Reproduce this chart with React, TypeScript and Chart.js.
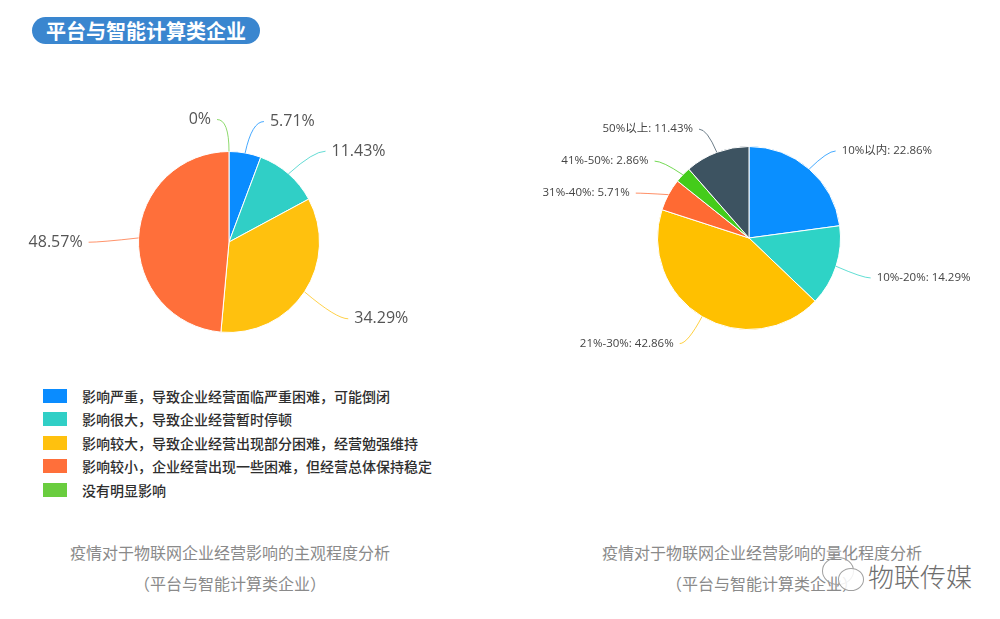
import React, { useEffect, useRef } from "react";
import { Chart, registerables } from "chart.js";

Chart.register(...registerables);

// ---------- data ----------
const titleText = "平台与智能计算类企业";

const impactLabels = [
  "影响严重，导致企业经营面临严重困难，可能倒闭",
  "影响很大，导致企业经营暂时停顿",
  "影响较大，导致企业经营出现部分困难，经营勉强维持",
  "影响较小，企业经营出现一些困难，但经营总体保持稳定",
  "没有明显影响",
];
const impactValues = [5.71, 11.43, 34.29, 48.57, 0];
const impactColors = ["#0A8CFF", "#30CFC6", "#FFC10E", "#FF6F3A", "#6ACD3F"];

const quantLabels = ["10%以内", "10%-20%", "21%-30%", "31%-40%", "41%-50%", "50%以上"];
const quantValues = [22.86, 14.29, 42.86, 5.71, 2.86, 11.43];
const quantColors = ["#0A8FFF", "#2ED3C6", "#FFC000", "#FF6A33", "#44CC1A", "#3D5361"];

const captionLeft = ["疫情对于物联网企业经营影响的主观程度分析", "（平台与智能计算类企业）"];
const captionRight = ["疫情对于物联网企业经营影响的量化程度分析", "（平台与智能计算类企业）"];
const watermarkText = "物联传媒";

const FONT = '"Open Sans", "Noto Sans CJK SC", sans-serif';
const CJK = '"Noto Sans CJK SC", "Noto Sans", sans-serif';

function hexA(hex: string, a: number) {
  const n = parseInt(hex.slice(1), 16);
  return `rgba(${(n >> 16) & 255},${(n >> 8) & 255},${n & 255},${a})`;
}

// leader-line label plugin
const leaderPlugin = {
  id: "leaderLabels",
  afterDatasetsDraw(chart: any, _args: any, opts: any) {
    const meta = chart.getDatasetMeta(0);
    const ds = chart.data.datasets[0];
    const ctx = chart.ctx;
    const items: any[] = [];
    meta.data.forEach((arc: any, i: number) => {
      const p = arc.getProps(["x", "y", "startAngle", "endAngle", "outerRadius"], true);
      const mid = (p.startAngle + p.endAngle) / 2;
      const c = Math.cos(mid);
      const s = Math.sin(mid);
      const side = c >= 0 ? 1 : -1;
      const p0 = { x: p.x + p.outerRadius * c, y: p.y + p.outerRadius * s };
      const r1 = p.outerRadius + opts.len1;
      const p1 = { x: p.x + r1 * c, y: p.y + r1 * s };
      items.push({ i, side, p0, p1, y: p1.y, color: ds.backgroundColor[i], value: ds.data[i], label: chart.data.labels[i] });
    });
    // simple overlap avoidance per side (push downward)
    const minGap = opts.minGap || 0;
    [1, -1].forEach((sd) => {
      const list = items.filter((it) => it.side === sd).sort((a, b) => a.y - b.y);
      for (let k = 1; k < list.length; k++) {
        if (list[k].y < list[k - 1].y + minGap) list[k].y = list[k - 1].y + minGap;
      }
    });
    ctx.save();
    items.forEach((it) => {
      const yy = it.y + (opts.dy || 0);
      const p1 = { x: it.p1.x, y: yy };
      const p2 = { x: p1.x + it.side * opts.len2, y: yy };
      ctx.beginPath();
      ctx.strokeStyle = hexA(it.color, 0.75);
      ctx.lineWidth = 1;
      ctx.moveTo(it.p0.x, it.p0.y);
      ctx.quadraticCurveTo(p1.x, p1.y, p2.x, p2.y);
      ctx.stroke();
      ctx.fillStyle = opts.color;
      ctx.font = opts.font;
      ctx.textBaseline = "middle";
      ctx.textAlign = it.side > 0 ? "left" : "right";
      ctx.fillText(opts.format(it.label, it.value), p2.x + it.side * opts.gap, p2.y);
    });
    ctx.restore();
  },
};

function PieChart(props: {
  labels: string[];
  values: number[];
  colors: string[];
  padding: any;
  labelOpts: any;
  style: React.CSSProperties;
}) {
  const ref = useRef<HTMLCanvasElement>(null);
  useEffect(() => {
    if (!ref.current) return;
    const chart = new Chart(ref.current, {
      type: "pie",
      data: {
        labels: props.labels,
        datasets: [
          {
            data: props.values,
            backgroundColor: props.colors,
            borderColor: "#ffffff",
            borderWidth: 1,
          },
        ],
      },
      options: {
        responsive: false,
        animation: false,
        devicePixelRatio: 1,
        layout: { padding: props.padding },
        plugins: {
          legend: { display: false },
          tooltip: { enabled: false },
          leaderLabels: props.labelOpts,
        } as any,
      },
      plugins: [leaderPlugin],
    });
    return () => chart.destroy();
  }, []);
  return <canvas ref={ref} width={480} height={300} style={props.style} />;
}

export default function App() {
  return (
    <div
      style={{
        position: "fixed",
        left: 0,
        top: 0,
        width: 1000,
        height: 619,
        background: "#ffffff",
        overflow: "hidden",
        fontFamily: CJK,
      }}
    >
      {/* title badge */}
      <div
        style={{
          position: "absolute",
          left: 32,
          top: 17,
          width: 228,
          height: 27,
          borderRadius: 14,
          background: "#3A86CF",
          color: "#ffffff",
          fontWeight: 700,
          fontSize: 20,
          lineHeight: "27px",
          textAlign: "center",
        }}
      >
        {titleText}
      </div>

      <PieChart
        labels={impactLabels}
        values={impactValues}
        colors={impactColors}
        padding={{ left: 138, right: 160, top: 71, bottom: 47 }}
        labelOpts={{
          len1: 38,
          len2: 12,
          gap: 6,
          minGap: 0,
          dy: 6,
          color: "#555555",
          font: `16px ${FONT}`,
          format: (_l: string, v: number) => `${v}%`,
        }}
        style={{ position: "absolute", left: 0, top: 80 }}
      />

      <PieChart
        labels={quantLabels}
        values={quantValues}
        colors={quantColors}
        padding={{ left: 137, right: 159, top: 66, bottom: 50 }}
        labelOpts={{
          len1: 28,
          len2: 8,
          gap: 6,
          minGap: 32,
          dy: 3,
          color: "#444444",
          font: `11.5px ${FONT}`,
          format: (l: string, v: number) => `${l}: ${v}%`,
        }}
        style={{ position: "absolute", left: 520, top: 80 }}
      />

      {/* legend */}
      <div style={{ position: "absolute", left: 43, top: 384 }}>
        {impactLabels.map((l, i) => (
          <div key={i} style={{ display: "flex", alignItems: "center", height: 23.5 }}>
            <div style={{ width: 24, height: 14, background: impactColors[i], marginRight: 15 }} />
            <span style={{ fontSize: 14, fontWeight: 500, color: "#2E2E2E", whiteSpace: "nowrap", lineHeight: "16px" }}>{l}</span>
          </div>
        ))}
      </div>

      {/* captions */}
      {[
        { lines: captionLeft, cx: 230 },
        { lines: captionRight, cx: 762 },
      ].map((c, k) => (
        <div key={k}>
          {c.lines.map((t, j) => (
            <div
              key={j}
              style={{
                position: "absolute",
                left: c.cx - 250,
                width: 500,
                top: 541 + j * 31,
                textAlign: "center",
                fontSize: 16,
                lineHeight: "22px",
                color: "#8A8A8A",
                whiteSpace: "nowrap",
              }}
            >
              {t}
            </div>
          ))}
        </div>
      ))}

      {/* watermark */}
      <div
        style={{
          position: "absolute",
          left: 822,
          top: 557,
          width: 30,
          height: 26,
          borderRadius: "50%",
          border: "1px solid #A0A0A0",
        }}
      />
      <div
        style={{
          position: "absolute",
          left: 838,
          top: 568,
          width: 24,
          height: 21,
          borderRadius: "50%",
          border: "1px solid #A0A0A0",
          background: "rgba(255,255,255,0.85)",
        }}
      />
      <div
        style={{
          position: "absolute",
          left: 868,
          top: 559,
          fontSize: 26,
          lineHeight: "34px",
          fontWeight: 300,
          color: "#6E6E6E",
          whiteSpace: "nowrap",
        }}
      >
        {watermarkText}
      </div>
    </div>
  );
}
